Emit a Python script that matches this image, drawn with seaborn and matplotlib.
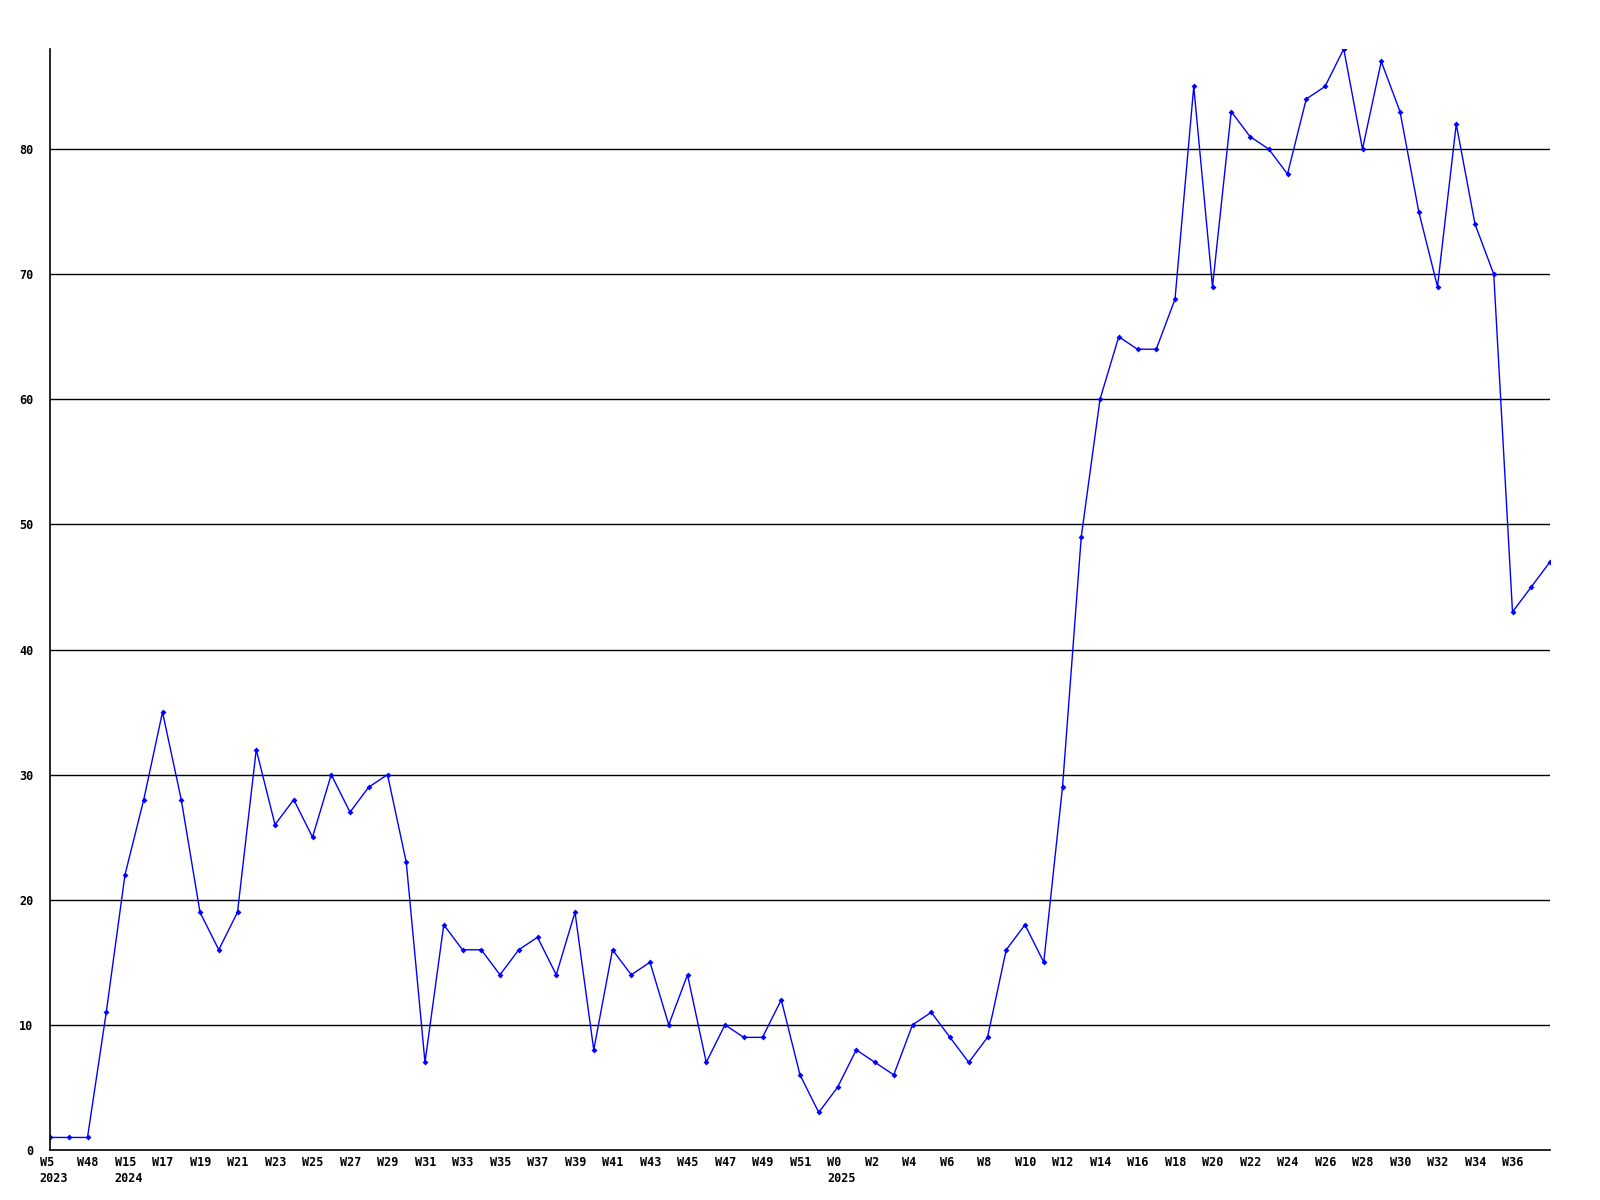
import numpy as np
import pandas as pd
import seaborn as sns
import matplotlib
matplotlib.use("Agg")
import matplotlib.pyplot as plt

#weekly counts, one point per week
counts = [1, 1, 1, 11, 22, 28, 35, 28, 19, 16,
          19, 32, 26, 28, 25, 30, 27, 29, 30, 23,
          7, 18, 16, 16, 14, 16, 17, 14, 19, 8,
          16, 14, 15, 10, 14, 7, 10, 9, 9, 12,
          6, 3, 5, 8, 7, 6, 10, 11, 9, 7,
          9, 16, 18, 15, 29, 49, 60, 65, 64, 64,
          68, 85, 69, 83, 81, 80, 78, 84, 85, 88,
          80, 87, 83, 75, 69, 82, 74, 70, 43, 45,
          47]
#labels only on every second point
week_labels = ['W5\n2023', 'W48', 'W15\n2024'] + ['W%d' % w for w in range(17, 52, 2)] \
    + ['W0\n2025'] + ['W%d' % w for w in range(2, 37, 2)]
label_pos = list(range(0, 2 * len(week_labels), 2))
y_ticks = [0, 10, 20, 30, 40, 50, 60, 70, 80]

df = pd.DataFrame({'idx': range(len(counts)), 'count': counts})

sns.set_style("white")
plt.rcParams['font.family'] = ['DejaVu Sans Mono', 'DejaVu Sans']

fig = plt.figure(figsize=(16, 12), dpi=100)
ax = fig.add_axes([0.03125, 0.0417, 0.9375, 0.9175])
sns.lineplot(data=df, x='idx', y='count', ax=ax, color='#0000ff', linewidth=1,
             marker='D', markersize=3, markeredgewidth=0, clip_on=True)

ax.set_xlim(0, len(counts) - 1)
ax.set_ylim(0, 88)
ax.set_yticks(y_ticks)
ax.set_yticklabels([str(v) for v in y_ticks], fontsize=8.5, fontweight='bold', color='black')
ax.set_xticks([])
#week labels start a little left of their point
for p, lab in zip(label_pos, week_labels):
    ax.annotate(lab, xy=(p, 0), xycoords=('data', 'axes fraction'),
                xytext=(-7.5, -4), textcoords='offset points',
                ha='left', va='top', multialignment='left', linespacing=1.3,
                fontsize=8.5, fontweight='bold', color='black', annotation_clip=False)
ax.tick_params(axis='both', length=0)
ax.tick_params(axis='y', pad=12)
for v in y_ticks[1:]:
    ax.axhline(v, color='black', linewidth=1, zorder=0)
ax.set_xlabel('')
ax.set_ylabel('')
for s in ['top', 'right']:
    ax.spines[s].set_visible(False)
for s in ['left', 'bottom']:
    ax.spines[s].set_color('black')
    ax.spines[s].set_linewidth(1.2)

fig.savefig('out.png', dpi=100)
